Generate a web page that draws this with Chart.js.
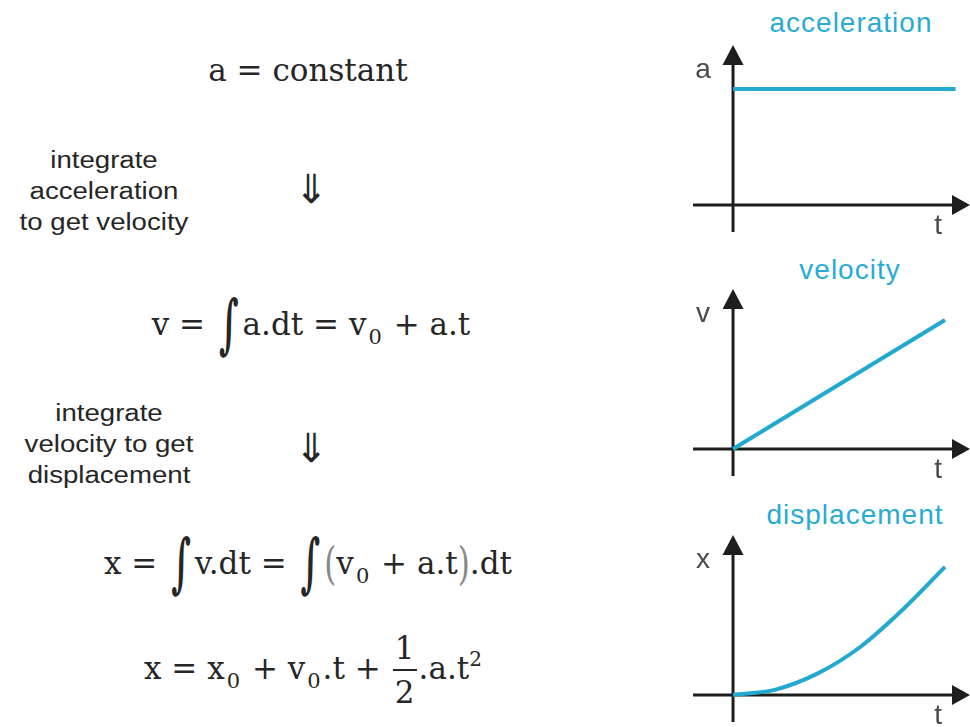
<!DOCTYPE html>
<html>
<head>
<meta charset="utf-8">
<script src="https://cdn.jsdelivr.net/npm/chart.js@4.4.1/dist/chart.umd.min.js"></script>
<style>
  body { margin: 0; background: #fff; width: 970px; height: 727px; overflow: hidden; position: relative; }
  .eq {
    position: absolute; transform: translate(-50%, -50%);
    font-family: 'DejaVu Serif', serif; font-size: 31px; color: #262626; white-space: nowrap;
  }
  .eq sub { font-size: 21px; vertical-align: -9px; margin: 0 2px; }
  .eq sup { font-size: 20px; vertical-align: 13px; }
  .int { display: inline-block; transform: scaleY(1.9); font-size: 34px; font-weight: bold; margin: 0 4px; }
  .paren { display: inline-block; transform: scaleY(1.45); color: #888; }
  .frac { display: inline-flex; flex-direction: column; align-items: center; vertical-align: middle; line-height: 38px; margin: 0 2px; }
  .frac .bar { width: 24px; height: 2px; background: #262626; margin: 2px 0; }
  .note {
    position: absolute; transform: translate(-50%, -50%) scaleX(1.2);
    font-family: 'Liberation Sans', Arial, sans-serif; font-size: 23px; color: #262626;
    text-align: center; line-height: 31px; white-space: nowrap;
  }
  .arrow {
    position: absolute; transform: translate(-50%, -50%);
    font-family: 'DejaVu Sans', sans-serif; font-size: 40px; color: #262626;
  }
  .title {
    position: absolute; transform: translate(-50%, -50%);
    font-family: 'Liberation Sans', Arial, sans-serif; font-size: 28px; letter-spacing: 1px;
    color: #29abd3; white-space: nowrap;
  }
  canvas { position: absolute; left: 690px; }
</style>
</head>
<body>

<div class="eq" style="left:308px;top:70px">a = constant</div>
<div class="note" style="left:104px;top:191px">integrate<br>acceleration<br>to get velocity</div>
<div class="arrow" style="left:311px;top:189px">⇓</div>

<div class="eq" style="left:311px;top:326px">v = <span class="int">∫</span>a.dt = v<sub>0</sub> + a.t</div>
<div class="note" style="left:109px;top:444px">integrate<br>velocity to get<br>displacement</div>
<div class="arrow" style="left:311px;top:448px">⇓</div>

<div class="eq" style="left:308px;top:565px">x = <span class="int">∫</span>v.dt = <span class="int">∫</span><span class="paren">(</span>v<sub>0</sub> + a.t<span class="paren">)</span>.dt</div>
<div class="eq" style="left:313px;top:670px">x = x<sub>0</sub> + v<sub>0</sub>.t + <span class="frac"><span>1</span><span class="bar"></span><span>2</span></span>.a.t<sup>2</sup></div>

<div class="title" style="left:851px;top:23px">acceleration</div>
<div class="title" style="left:850px;top:270px">velocity</div>
<div class="title" style="left:855px;top:515px">displacement</div>

<canvas id="accelChart" width="280" height="195" style="top:40px"></canvas>
<canvas id="velChart" width="280" height="195" style="top:284px"></canvas>
<canvas id="dispChart" width="280" height="195" style="top:530px"></canvas>

<script>
// time values and readings for each graph
const tAccel = [0, 1.05];
const accel = [0.967, 0.967];

const tVel = [0, 1.0];
const vel = [0, 1.075];

const tDisp = [0, 0.2, 0.4, 0.6, 0.8, 1.0];
const disp = [0, 0.045, 0.18, 0.40, 0.71, 1.067];

const lineColor = '#23a8d0';
const axisColor = '#1e1e1e';

// draws the arrowed axes through the origin plus the axis letters
const arrowAxes = {
    id: 'arrowAxes',
    beforeDatasetsDraw(chart, args, opts) {
        const ctx = chart.ctx;
        const x0 = chart.scales.x.getPixelForValue(0);
        const y0 = chart.scales.y.getPixelForValue(0);
        const right = chart.width;
        const top = 5;

        ctx.save();
        ctx.strokeStyle = axisColor;
        ctx.fillStyle = axisColor;
        ctx.lineWidth = 3;

        // horizontal axis
        ctx.beginPath();
        ctx.moveTo(x0 - 40, y0);
        ctx.lineTo(right - 16, y0);
        ctx.stroke();
        ctx.beginPath();
        ctx.moveTo(right, y0);
        ctx.lineTo(right - 18, y0 - 10);
        ctx.lineTo(right - 18, y0 + 10);
        ctx.closePath();
        ctx.fill();

        // vertical axis
        ctx.beginPath();
        ctx.moveTo(x0, y0 + 27);
        ctx.lineTo(x0, top + 18);
        ctx.stroke();
        ctx.beginPath();
        ctx.moveTo(x0, top);
        ctx.lineTo(x0 - 10.5, top + 20);
        ctx.lineTo(x0 + 10.5, top + 20);
        ctx.closePath();
        ctx.fill();

        ctx.fillStyle = '#4a4a4a';
        ctx.font = '28px "Liberation Sans", Arial, sans-serif';
        ctx.textAlign = 'center';
        ctx.textBaseline = 'middle';
        ctx.fillText(opts.yLetter, x0 - 30, top + 25);
        ctx.fillText('t', x0 + 205, y0 + 21);
        ctx.restore();
    }
};

function makeGraph(id, tValues, yValues, letter, curved) {
    const ctx = document.getElementById(id).getContext('2d');
    return new Chart(ctx, {
        type: 'line',
        data: {
            labels: tValues,
            datasets: [{
                data: tValues.map((t, i) => ({ x: t, y: yValues[i] })),
                borderColor: lineColor,
                borderWidth: 4,
                pointRadius: 0,
                fill: false,
                cubicInterpolationMode: curved ? 'monotone' : 'default',
                tension: curved ? 0.4 : 0
            }]
        },
        options: {
            responsive: false,
            animation: false,
            layout: { padding: 0 },
            plugins: {
                legend: { display: false },
                tooltip: { enabled: false },
                arrowAxes: { yLetter: letter }
            },
            scales: {
                x: { type: 'linear', min: -0.203, max: 1.118, display: false },
                y: { type: 'linear', min: -0.25, max: 1.375, display: false }
            }
        },
        plugins: [arrowAxes]
    });
}

makeGraph('accelChart', tAccel, accel, 'a', false);
makeGraph('velChart', tVel, vel, 'v', false);
makeGraph('dispChart', tDisp, disp, 'x', true);
</script>
</body>
</html>
